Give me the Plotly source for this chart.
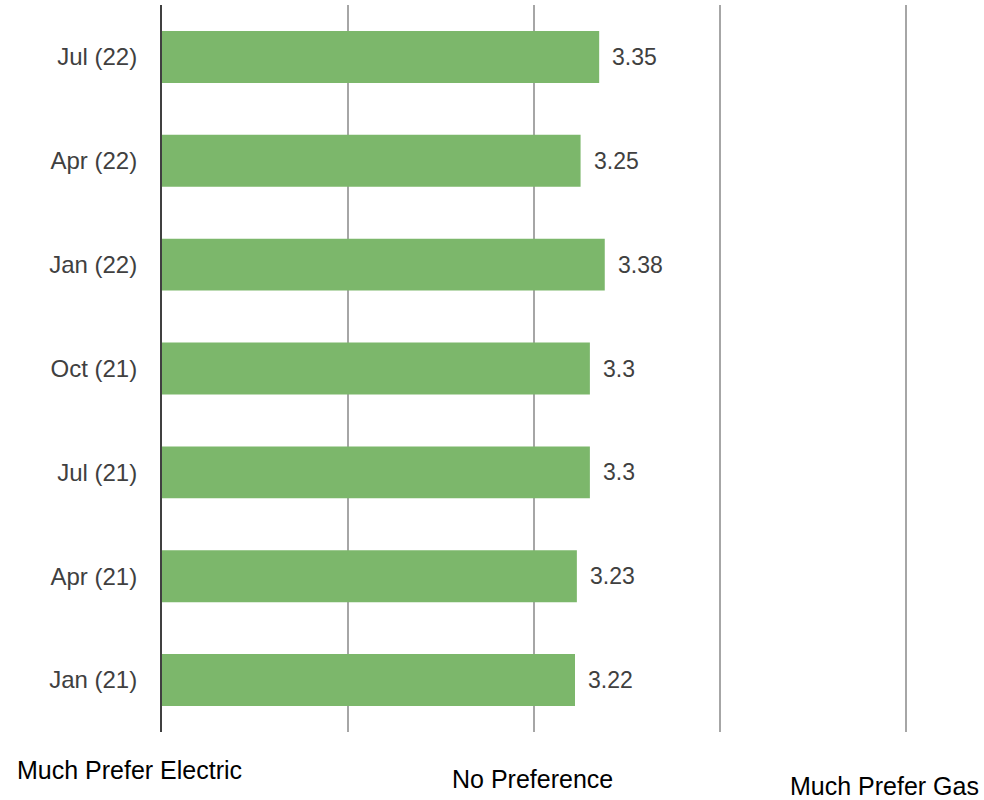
import plotly.graph_objects as go

categories = ["Jan (21)", "Apr (21)", "Jul (21)", "Oct (21)", "Jan (22)", "Apr (22)", "Jul (22)"]
values = [3.22, 3.23, 3.3, 3.3, 3.38, 3.25, 3.35]
scale_labels = ["Much Prefer Electric", "No Preference", "Much Prefer Gas"]

W, H = 984, 800
L, R, T, B = 162, 76, 5, 68
pw = W - L - R
FONT = "Liberation Sans, Arial"

fig = go.Figure(go.Bar(
    y=categories, x=[v - 1 for v in values], base=1, orientation="h",
    marker=dict(color="#7cb76b", line=dict(width=0)),
    width=0.5, hoverinfo="skip",
))

for c, v in zip(categories, values):
    fig.add_annotation(x=v, y=c, text=str(v), showarrow=False,
                       xanchor="left", yanchor="middle", xshift=11,
                       font=dict(family=FONT, size=23, color="#404040"))

fig.update_layout(
    width=W, height=H,
    margin=dict(l=L, r=R, t=T, b=B),
    plot_bgcolor="white", paper_bgcolor="white",
    showlegend=False,
)
fig.update_xaxes(range=[1, 5.01], tickvals=[1, 2, 3, 4, 5], showticklabels=False,
                 showgrid=True, gridcolor="#a6a6a6", gridwidth=2, zeroline=False,
                 showline=False, ticks="")
fig.update_yaxes(categoryorder="array", categoryarray=categories,
                 range=[-0.5, 6.5], showgrid=False, zeroline=False,
                 showline=True, linecolor="#404040", linewidth=2,
                 ticks="", ticklabelstandoff=18,
                 tickfont=dict(family=FONT, size=24, color="#404040"))

pos = [(129, 770), (532, 779), (884, 786)]
for txt, (px, py) in zip(scale_labels, pos):
    fig.add_annotation(text=txt, xref="paper", yref="paper",
                       x=(px - L) / pw, y=(H - B - py) / (H - T - B),
                       xanchor="center", yanchor="middle", showarrow=False,
                       font=dict(family=FONT, size=25, color="#000000"))

fig.write_html("out.html", config={"displayModeBar": False},
               post_script="document.body.style.margin='0px';")
